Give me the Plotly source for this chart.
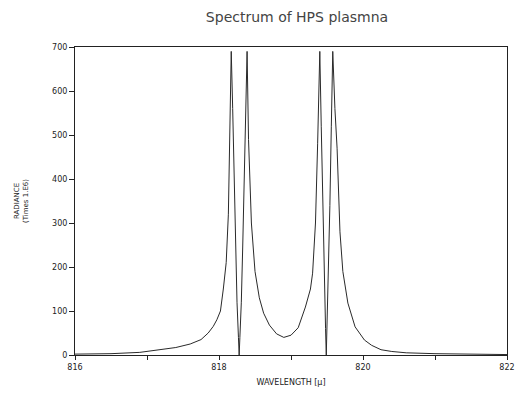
import plotly.graph_objects as go

# Wavelength (x) and radiance (y)
wavelength = [816.0, 816.5, 816.9, 817.2, 817.4, 817.6, 817.75, 817.85, 817.92, 817.97,
              818.02, 818.06, 818.10, 818.13, 818.15, 818.17,
              818.19, 818.21, 818.23, 818.25, 818.27, 818.28, 818.29, 818.31, 818.33, 818.35, 818.37, 818.39,
              818.41, 818.45, 818.50, 818.56, 818.62, 818.70, 818.80, 818.90, 819.00, 819.10, 819.20,
              819.27, 819.30, 819.34, 819.37, 819.40,
              819.42, 819.44, 819.46, 819.48, 819.49, 819.50, 819.52, 819.54, 819.56, 819.58,
              819.61, 819.64, 819.66, 819.68, 819.72, 819.79, 819.89, 820.02, 820.12, 820.25,
              820.40, 820.60, 821.0, 821.5, 822.0]
radiance = [2, 3, 6, 12, 17, 25, 35, 50, 65, 80,
            100, 150, 210, 320, 480, 690,
            560, 400, 250, 120, 40, 0, 40, 120, 250, 400, 560, 690,
            490, 300, 190, 130, 95, 68, 48, 40, 45, 62, 109,
            150, 186, 300, 480, 690,
            520, 340, 170, 60, 0, 60, 170, 340, 520, 690,
            560, 470, 375, 280, 190, 118, 64, 34, 22, 12,
            8, 5, 3, 2, 1]

x_tick_vals = [816, 818, 820, 822]
x_tick_text = ["816", "818", "820", "822"]
y_tick_vals = [0, 100, 200, 300, 400, 500, 600, 700]

FONT = "DejaVu Sans"
W, H = 522, 397

fig = go.Figure()
fig.add_trace(go.Scatter(
    x=wavelength, y=radiance, mode="lines",
    line=dict(color="#2a2a2a", width=1),
    showlegend=False, hoverinfo="skip",
))

fig.update_layout(
    width=W, height=H,
    margin=dict(l=75, r=7, t=47, b=42),
    paper_bgcolor="white", plot_bgcolor="white",
    font=dict(family=FONT, color="#222222", size=8),
    title=dict(text="Spectrum of HPS plasmna", x=297 / W, xanchor="center",
               y=1 - 17 / H, yanchor="middle",
               font=dict(family=FONT, size=14, color="#444444")),
    xaxis=dict(
        range=[816, 822], tickvals=x_tick_vals, ticktext=x_tick_text,
        ticks="outside", ticklen=4, tickwidth=1, tickcolor="#222",
        minor=dict(dtick=1, ticks="outside", ticklen=4, tickwidth=1, tickcolor="#222"),
        showline=True, linecolor="#222", linewidth=1, mirror=True,
        showgrid=False, zeroline=False, ticklabeloverflow="allow",
        tickfont=dict(family=FONT, size=8),
        title=dict(text="WAVELENGTH [μ]", font=dict(family=FONT, size=8), standoff=8),
    ),
    yaxis=dict(
        range=[0, 700], tickvals=y_tick_vals,
        ticks="outside", ticklen=5, tickwidth=1, tickcolor="#222",
        showline=True, linecolor="#222", linewidth=1, mirror=True,
        showgrid=False, zeroline=False,
        tickfont=dict(family=FONT, size=8),
    ),
    annotations=[
        dict(text="RADIANCE<br>(Times 1.E6)", xref="paper", yref="paper",
             x=(20 - 75) / 440, y=0.5, xanchor="center", yanchor="middle",
             textangle=-90, showarrow=False, align="center",
             font=dict(family=FONT, size=7, color="#222222")),
    ],
)

fig.write_html("out.html", config={"displayModeBar": False},
               post_script="document.body.style.margin='0';document.body.style.overflow='hidden';")
